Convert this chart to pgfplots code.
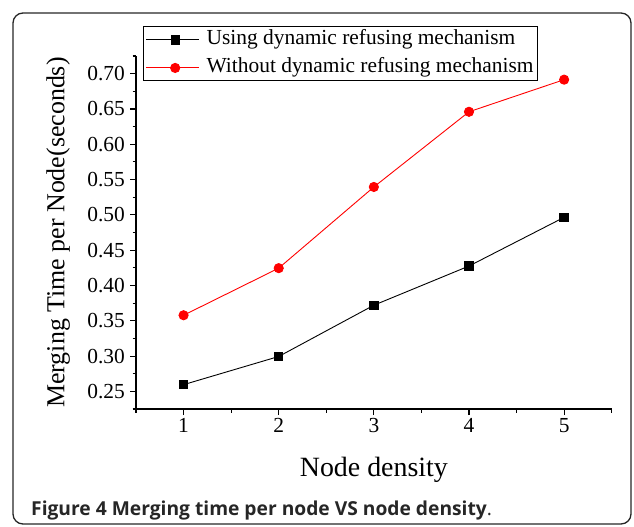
\documentclass[border=0pt]{standalone}
\usepackage{fontspec}
\setmainfont{Liberation Serif}
\newfontfamily\capfont{Open Sans}
\usepackage{pgfplots}
\pgfplotsset{compat=1.18}

\begin{document}
\begin{tikzpicture}[x=1bp,y=1bp]
\useasboundingbox (0,0) rectangle (634,-527);
% outer frame
\draw[line width=1.3bp, draw=black!85, rounded corners=10bp] (13,-13) rectangle (631,-524);
\begin{axis}[
  at={(136bp,-409bp)}, anchor=south west,
  scale only axis, width=475.7bp, height=353bp,
  axis x line=bottom, axis y line=left,
  axis line style={-, line width=1.2bp},
  xmin=0.5, xmax=5.5, ymin=0.225, ymax=0.725,
  xtick={1,2,3,4,5},
  minor xtick={0.5,1.5,2.5,3.5,4.5,5.5},
  ytick={0.25,0.30,0.35,0.40,0.45,0.50,0.55,0.60,0.65,0.70},
  minor ytick={0.225,0.275,0.325,0.375,0.425,0.475,0.525,0.575,0.625,0.675,0.725},
  tick align=outside,
  major tick length=6bp, minor tick length=3.5bp,
  tick style={line width=1.1bp, black},
  yticklabel style={/pgf/number format/fixed, /pgf/number format/fixed zerofill,
                    /pgf/number format/precision=2, inner sep=5bp},
  /pgf/number format/assume math mode=true,
  tick label style={font=\fontsize{21.5}{24}\selectfont},
  xlabel={Node density},
  ylabel={Merging Time per Node(seconds)},
  label style={font=\fontsize{26}{30}\selectfont},
  xlabel style={at={(axis description cs:0.5,-0.1926)}, anchor=base, font=\fontsize{28}{32}\selectfont},
  ylabel style={at={(axis description cs:-0.1507,0.5)}, anchor=base},
  legend style={at={(rel axis cs:0.0153,1.0836)}, anchor=north west,
    draw=black, line width=0.9bp, fill=white,
    font=\fontsize{21.5}{26}\selectfont,
    inner xsep=2bp, inner ysep=1bp, row sep=4bp,
    nodes={inner sep=2bp, text height=15bp, text depth=5bp},
    /tikz/every odd column/.append style={column sep=5bp}},
  legend cell align=left,
  legend image code/.code={
    \path (-5bp,0bp) -- (48bp,0bp);
    \draw[mark repeat=2, mark phase=2] plot coordinates {(0bp,0bp) (24bp,0bp) (48bp,0bp)};
  },
]
\addplot[black, line width=0.9bp, mark=square*, mark size=4.2bp, mark options={solid, fill=black}]
  coordinates {(1,0.2595) (2,0.2994) (3,0.3720) (4,0.4275) (5,0.4965)};
\addlegendentry{Using dynamic refusing mechanism}
\addplot[red, line width=0.9bp, mark=*, mark size=4.6bp, mark options={solid, fill=red}]
  coordinates {(1,0.3578) (2,0.4245) (3,0.5395) (4,0.6460) (5,0.6915)};
\addlegendentry{Without dynamic refusing mechanism}
\end{axis}
% caption
\node[anchor=base west, inner sep=0pt, text=black!85] at (31,-515.7)
  {\capfont\fontsize{19.3}{22}\selectfont\textbf{Figure 4 Merging time per node VS node density}.};
\end{tikzpicture}
\end{document}
